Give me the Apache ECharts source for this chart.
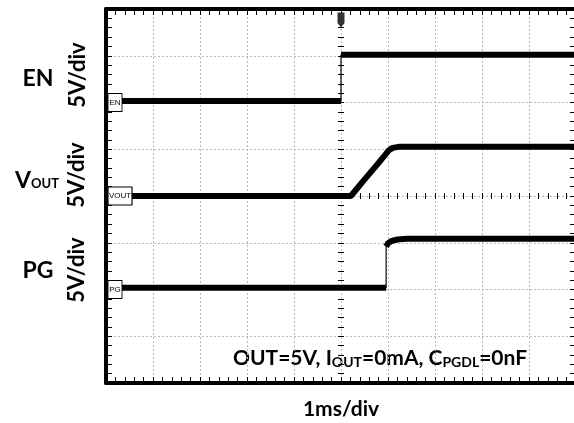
<!DOCTYPE html>
<html><head><meta charset="utf-8">
<script src="https://cdn.jsdelivr.net/npm/echarts@6/dist/echarts.min.js"></script>
<style>html,body{margin:0;padding:0;background:#fff}#c{width:574px;height:423px}</style>
</head><body><div id="c"></div>
<script>
// ---- data (time in ms, voltage in V) ----
const enTime   = [0, 5.0, 5.0, 10];
const enVolt   = [0.15, 0.15, 5.1, 5.1];
const voutTime = [0, 5.21, 5.48, 5.76, 5.94, 6.02, 6.1, 6.25, 10];
const voutVolt = [0, 0, 1.65, 3.3, 4.4, 4.9, 5.15, 5.28, 5.28];
const pgTime   = [0, 5.96, 5.96, 6.0, 6.08, 6.2, 6.4, 10];
const pgVolt   = [0.2, 0.2, 4.6, 4.95, 5.2, 5.35, 5.42, 5.42];
const channelNames = ['EN', 'VOUT', 'PG'];
const timeDivLabel = '1ms/div';
const voltDivLabel = '5V/div';
const triggerTime = 5.0;

// ---- helpers ----
function pairs(t, v) { return t.map((x, i) => [x, v[i]]); }
// thick trace: gap at instantaneous edges (equal consecutive times)
function thickPairs(t, v) {
  const out = [];
  for (let i = 0; i < t.length; i++) {
    if (i > 0 && t[i] === t[i - 1]) out.push([t[i], null]);
    out.push([t[i], v[i]]);
  }
  return out;
}
const FONT = 'Lato';
const gridDash = { color: '#b8b8b8', type: [2, 2], width: 1 };
function frameX(pos, extra) {
  return Object.assign({
    type: 'value', min: 0, max: 10, interval: 1, position: pos,
    axisLine: { show: true, onZero: false, lineStyle: { color: '#000', width: 4 } },
    axisTick: { show: true, inside: true, length: 6, lineStyle: { color: '#000', width: 1 } },
    minorTick: { show: true, splitNumber: 5, length: 6, lineStyle: { color: '#000', width: 1 } },
    axisLabel: { show: false }, splitLine: { show: false }
  }, extra || {});
}
function centerX(inside) {
  return {
    type: 'value', min: 0, max: 10, interval: 1, position: 'bottom',
    axisLine: { show: false, onZero: true, onZeroAxisIndex: 1 },
    axisTick: { show: true, inside: inside, length: 3, lineStyle: { color: '#000', width: 1 } },
    minorTick: { show: true, splitNumber: 5, length: 3, lineStyle: { color: '#000', width: 1 } },
    axisLabel: { show: false }, splitLine: { show: false }
  };
}
function frameY(pos, extra) {
  return Object.assign({
    type: 'value', min: -20, max: 20, interval: 5, position: pos,
    axisLine: { show: true, onZero: false, lineStyle: { color: '#000', width: 4 } },
    axisTick: { show: true, inside: true, length: 6, lineStyle: { color: '#000', width: 1 } },
    minorTick: { show: true, splitNumber: 5, length: 6, lineStyle: { color: '#000', width: 1 } },
    axisLabel: { show: false }, splitLine: { show: false }
  }, extra || {});
}
function centerY(inside) {
  return {
    type: 'value', min: -20, max: 20, interval: 5, position: 'left',
    axisLine: { show: false, onZero: true, onZeroAxisIndex: 4 },
    axisTick: { show: true, inside: inside, length: 3, lineStyle: { color: '#000', width: 1 } },
    minorTick: { show: true, splitNumber: 5, length: 3, lineStyle: { color: '#000', width: 1 } },
    axisLabel: { show: false }, splitLine: { show: false }
  };
}
function hiddenY(min, max) {
  return { type: 'value', min: min, max: max, interval: 5, show: false,
           axisLine: { onZero: false } };
}
function chanBox(name, t, v, w) {
  return {
    silent: true, animation: false,
    data: [{
      coord: [t, v], symbol: 'rect', symbolSize: [w, 18], symbolOffset: [w / 2 + 2, 0],
      itemStyle: { color: '#fff', borderColor: '#000', borderWidth: 1 },
      label: { show: true, position: 'inside', formatter: name, color: '#000',
               fontSize: 8, fontFamily: 'Liberation Sans Narrow, Liberation Sans' }
    }]
  };
}
function trace(name, t, v, yi, box) {
  return [
    { name: name + '_thin', type: 'line', xAxisIndex: 0, yAxisIndex: yi, data: pairs(t, v),
      showSymbol: false, symbol: 'none', lineStyle: { color: '#000', width: 1.2 },
      silent: true, animation: false, z: 3 },
    { name: name, type: 'line', xAxisIndex: 0, yAxisIndex: yi, data: thickPairs(t, v),
      showSymbol: false, symbol: 'none', connectNulls: false,
      lineStyle: { color: '#000', width: 6 }, silent: true, animation: false, z: 4,
      markPoint: box }
  ];
}

const chart = echarts.init(document.getElementById('c'), null, { renderer: 'canvas' });
const enSeries = trace('EN', enTime, enVolt, 0, chanBox(channelNames[0], enTime[0], 0, 14));
enSeries[1].markPoint.data.push({
  coord: [triggerTime, 10], symbol: 'path://M0,0 L10,0 L10,14 L5,20 L0,14 Z',
  symbolSize: [7, 15], symbolOffset: [0, 11], itemStyle: { color: '#333' }, label: { show: false }
});
const option = {
  animation: false,
  backgroundColor: '#fff',
  grid: { left: 106, top: 9, width: 470, height: 374, containLabel: false, outerBoundsMode: 'none' },
  xAxis: [
    frameX('bottom', {
      splitLine: { show: true, lineStyle: gridDash },
      name: timeDivLabel, nameLocation: 'middle', nameGap: 16,
      nameTextStyle: { fontFamily: FONT, fontSize: 21, color: '#000', fontWeight: 'bold',
                       verticalAlign: 'top' }
    }),
    frameX('top'),
    centerX(true),
    centerX(false),
    { type: 'value', min: -5, max: 5, show: false, axisLine: { onZero: false } }
  ],
  yAxis: [
    hiddenY(-30, 10),
    frameY('left', { splitLine: { show: true, lineStyle: gridDash } }),
    hiddenY(-10, 30),
    frameY('right'),
    centerY(true),
    centerY(false)
  ],
  series: [].concat(
    enSeries,
    trace('VOUT', voutTime, voutVolt, 1, chanBox(channelNames[1], voutTime[0], 0, 24)),
    trace('PG', pgTime, pgVolt, 2, chanBox(channelNames[2], pgTime[0], 0, 14))
  ),
  graphic: [
    { type: 'text', x: 38, y: 79, style: { text: 'EN', font: 'bold 23px Lato', fill: '#000',
      align: 'center', verticalAlign: 'middle' } },
    { type: 'text', x: 78, y: 75, rotation: Math.PI / 2, style: { text: voltDivLabel,
      font: 'bold 22px Lato', fill: '#000', align: 'center', verticalAlign: 'middle' } },
    { type: 'text', x: 37, y: 180, style: { text: '{a|V}{b|OUT}', fill: '#000',
      align: 'center', verticalAlign: 'middle',
      rich: { a: { fontFamily: FONT, fontWeight: 'bold', fontSize: 23, verticalAlign: 'bottom', lineHeight: 24 },
              b: { fontFamily: FONT, fontWeight: 'bold', fontSize: 13, verticalAlign: 'bottom', lineHeight: 14, padding: [0, 0, 2, 0] } } } },
    { type: 'text', x: 77, y: 175, rotation: Math.PI / 2, style: { text: voltDivLabel,
      font: 'bold 22px Lato', fill: '#000', align: 'center', verticalAlign: 'middle' } },
    { type: 'text', x: 38, y: 271, style: { text: 'PG', font: 'bold 23px Lato', fill: '#000',
      align: 'center', verticalAlign: 'middle' } },
    { type: 'text', x: 77, y: 270, rotation: Math.PI / 2, style: { text: voltDivLabel,
      font: 'bold 22px Lato', fill: '#000', align: 'center', verticalAlign: 'middle' } },
    { type: 'text', x: 233, y: 358, style: {
      text: '{a|OUT=5V, I}{b|OUT}{a|=0mA, C}{b|PGDL}{a|=0nF}', fill: '#000',
      align: 'left', verticalAlign: 'middle',
      rich: { a: { fontFamily: FONT, fontWeight: 'bold', fontSize: 21, verticalAlign: 'bottom', lineHeight: 22 },
              b: { fontFamily: FONT, fontWeight: 'bold', fontSize: 14, verticalAlign: 'bottom', lineHeight: 14, padding: [0, 0, 0, 0] } } } }
  ]
};
chart.setOption(option);
</script>
</body></html>
